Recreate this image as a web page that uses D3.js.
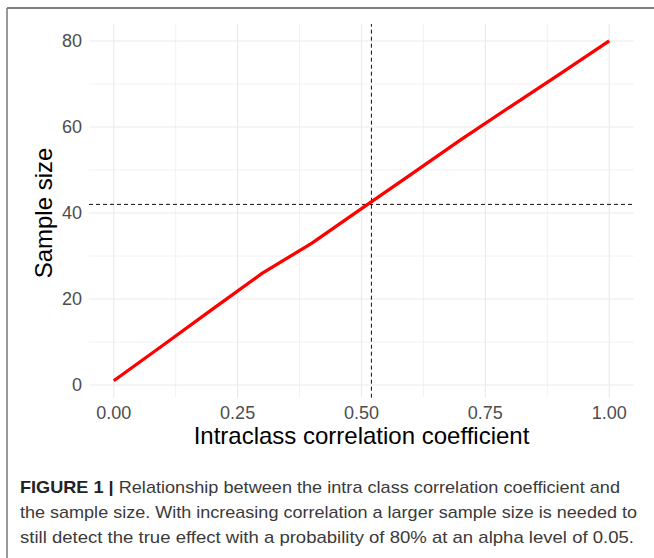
<!DOCTYPE html>
<html>
<head>
<meta charset="utf-8">
<script src="https://cdn.jsdelivr.net/npm/d3@7"></script>
<style>
  body { margin: 0; background: #fff; }
  svg { display: block; font-family: "Liberation Sans", Arial, sans-serif; }
</style>
</head>
<body>
<svg width="654" height="558"></svg>
<script>
// values
const icc = [0, 0.1, 0.2, 0.3, 0.4, 0.5, 0.6, 0.7, 0.8, 0.9, 1.0];
const sampleSize = [1, 9.3, 17.7, 26, 33, 41, 49, 57, 64.7, 72.3, 80];
const xTicks = [0, 0.25, 0.5, 0.75, 1];
const xMinor = [0.125, 0.375, 0.625, 0.875];
const yTicks = [0, 20, 40, 60, 80];
const yMinor = [10, 30, 50, 70];
const refX = 0.52;
const refY = 42;
const captionLines = [
    'Relationship between the intra class correlation coefficient and',
    'the sample size. With increasing correlation a larger sample size is needed to',
    'still detect the true effect with a probability of 80% at an alpha level of 0.05.'
];

const svg = d3.select('svg');

// frame lines (top + left)
svg.append('line').attr('x1', 7).attr('x2', 654).attr('y1', 8).attr('y2', 8)
    .attr('stroke', '#555').attr('stroke-width', 1.5);
svg.append('line').attr('x1', 7).attr('x2', 7).attr('y1', 8).attr('y2', 558)
    .attr('stroke', '#777').attr('stroke-width', 1.5);

// ggplot-like 5% expansion
const x = d3.scaleLinear().domain([-0.05, 1.05]).range([89, 634]);
const y = d3.scaleLinear().domain([-2.95, 83.95]).range([397.7, 24]);

const g = svg.append('g');

g.selectAll('.xminor').data(xMinor).join('line')
    .attr('x1', d => x(d)).attr('x2', d => x(d))
    .attr('y1', y.range()[0]).attr('y2', y.range()[1])
    .attr('stroke', '#f2f2f2').attr('stroke-width', 1);
g.selectAll('.yminor').data(yMinor).join('line')
    .attr('y1', d => y(d)).attr('y2', d => y(d))
    .attr('x1', x.range()[0]).attr('x2', x.range()[1])
    .attr('stroke', '#f2f2f2').attr('stroke-width', 1);
g.selectAll('.xmajor').data(xTicks).join('line')
    .attr('x1', d => x(d)).attr('x2', d => x(d))
    .attr('y1', y.range()[0]).attr('y2', y.range()[1])
    .attr('stroke', '#ebebeb').attr('stroke-width', 1.2);
g.selectAll('.ymajor').data(yTicks).join('line')
    .attr('y1', d => y(d)).attr('y2', d => y(d))
    .attr('x1', x.range()[0]).attr('x2', x.range()[1])
    .attr('stroke', '#ebebeb').attr('stroke-width', 1.2);

// tick labels
g.selectAll('.xlab').data(xTicks).join('text')
    .attr('x', d => x(d)).attr('y', 419)
    .attr('text-anchor', 'middle').attr('font-size', 18).attr('fill', '#4d4d4d')
    .text(d3.format('.2f'));
g.selectAll('.ylab').data(yTicks).join('text')
    .attr('x', 82).attr('y', d => y(d)).attr('dy', '0.36em')
    .attr('text-anchor', 'end').attr('font-size', 18).attr('fill', '#4d4d4d')
    .text(d => d);

// axis titles
svg.append('text').attr('x', x(0.5)).attr('y', 444)
    .attr('text-anchor', 'middle').attr('font-size', 24).attr('fill', '#000')
    .text('Intraclass correlation coefficient');
svg.append('text').attr('transform', `translate(52, ${y(40)}) rotate(-90)`)
    .attr('text-anchor', 'middle').attr('font-size', 24).attr('fill', '#000')
    .text('Sample size');

// reference lines
g.append('line').attr('x1', x(refX)).attr('x2', x(refX))
    .attr('y1', y.range()[0]).attr('y2', y.range()[1])
    .attr('stroke', '#111').attr('stroke-width', 1).attr('stroke-dasharray', '4,3');
g.append('line').attr('y1', y(refY)).attr('y2', y(refY))
    .attr('x1', x.range()[0]).attr('x2', x.range()[1])
    .attr('stroke', '#111').attr('stroke-width', 1).attr('stroke-dasharray', '4,3');

// curve
const line = d3.line()
    .x((d, i) => x(icc[i]))
    .y(d => y(d));
g.append('path').datum(sampleSize)
    .attr('d', line)
    .attr('fill', 'none').attr('stroke', '#ff0000').attr('stroke-width', 3.3)
    .attr('stroke-linejoin', 'round');

// caption
const cap = svg.append('g').attr('font-size', 17).attr('fill', '#3a3a3a');
const first = cap.append('text').attr('x', 20).attr('y', 493)
    .attr('textLength', 600).attr('lengthAdjust', 'spacingAndGlyphs');
first.append('tspan').attr('font-weight', 'bold').attr('fill', '#222').text('FIGURE 1 | ');
first.append('tspan').text(captionLines[0]);
cap.append('text').attr('x', 20).attr('y', 518)
    .attr('textLength', 617).attr('lengthAdjust', 'spacingAndGlyphs')
    .text(captionLines[1]);
cap.append('text').attr('x', 20).attr('y', 543)
    .attr('textLength', 614).attr('lengthAdjust', 'spacingAndGlyphs')
    .text(captionLines[2]);
</script>
</body>
</html>
